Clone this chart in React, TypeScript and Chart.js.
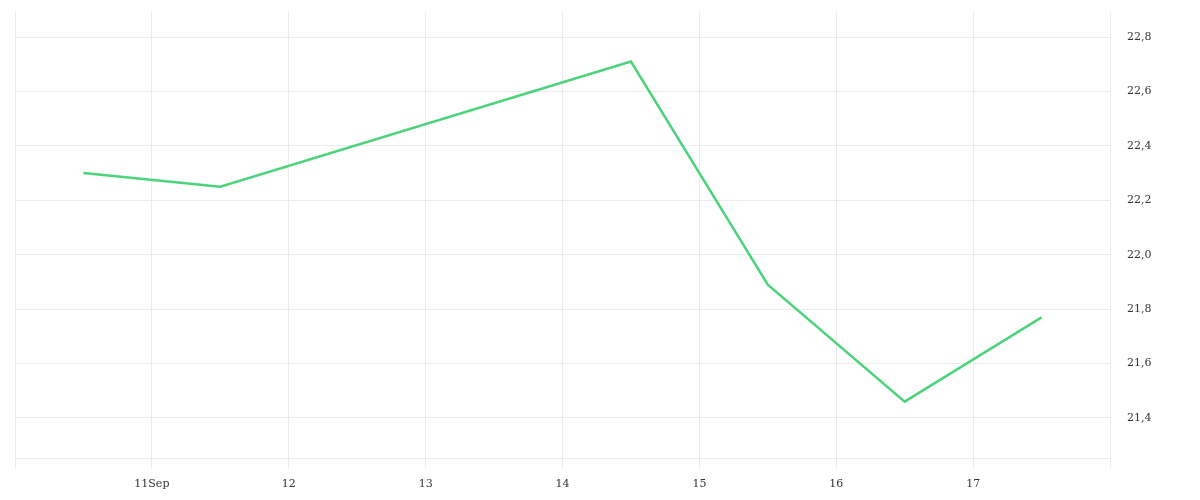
import React, { useEffect, useRef } from "react";
import { Chart, registerables } from "chart.js";

Chart.register(...registerables);

// Days of September (noon readings)
const dayPositions = [10.5, 11.5, 14.5, 15.5, 16.5, 17.5];
const values = [22.3, 22.25, 22.71, 21.89, 21.46, 21.77];
const xTickDays = [10, 11, 12, 13, 14, 15, 16, 17, 18];
const xTickLabels = ["", "11Sep", "12", "13", "14", "15", "16", "17", ""];
const yTickValues = [21.4, 21.6, 21.8, 22.0, 22.2, 22.4, 22.6, 22.8];

export default function App() {
  const ref = useRef<HTMLCanvasElement | null>(null);

  useEffect(() => {
    if (!ref.current) return;
    const font = { family: "'DejaVu Serif', serif", size: 11 };
    const chart = new Chart(ref.current, {
      type: "line",
      data: {
        datasets: [
          {
            data: dayPositions.map((d, i) => ({ x: d, y: values[i] })),
            borderColor: "#4cd37b",
            borderWidth: 2.5,
            pointRadius: 0,
            tension: 0,
            fill: false,
          },
        ],
      },
      options: {
        animation: false,
        responsive: true,
        maintainAspectRatio: false,
        layout: { padding: { left: 7, top: 4, right: 0, bottom: 0 } },
        plugins: { legend: { display: false }, tooltip: { enabled: false } },
        scales: {
          x: {
            type: "linear",
            min: 10,
            max: 18,
            afterBuildTicks: (axis: any) => {
              axis.ticks = xTickDays.map((v) => ({ value: v }));
            },
            afterFit: (axis: any) => {
              axis.height = 34;
              axis.paddingLeft = 0;
              axis.paddingRight = 0;
            },
            grid: { color: "#ebebeb", tickLength: 10, drawTicks: true },
            border: { display: true, color: "#ebebeb" },
            ticks: {
              font,
              color: "#333",
              padding: 10,
              maxRotation: 0,
              autoSkip: false,
              callback: (v: any) => {
                const i = xTickDays.indexOf(Number(v));
                return i >= 0 ? xTickLabels[i] : "";
              },
            },
          },
          y: {
            position: "right",
            min: 21.253,
            max: 22.892,
            afterBuildTicks: (axis: any) => {
              axis.ticks = yTickValues.map((v) => ({ value: v }));
            },
            afterFit: (axis: any) => {
              axis.width = 82;
              axis.paddingTop = 4;
              axis.paddingBottom = 0;
            },
            grid: { color: "#ebebeb", drawTicks: false },
            border: { display: false },
            ticks: {
              font,
              color: "#333",
              padding: 17,
              callback: (v: any) => Number(v).toFixed(1).replace(".", ","),
            },
          },
        },
      },
    });
    return () => chart.destroy();
  }, []);

  return (
    <div style={{ position: "relative", width: "1184px", height: "484px" }}>
      <canvas ref={ref} />
    </div>
  );
}
